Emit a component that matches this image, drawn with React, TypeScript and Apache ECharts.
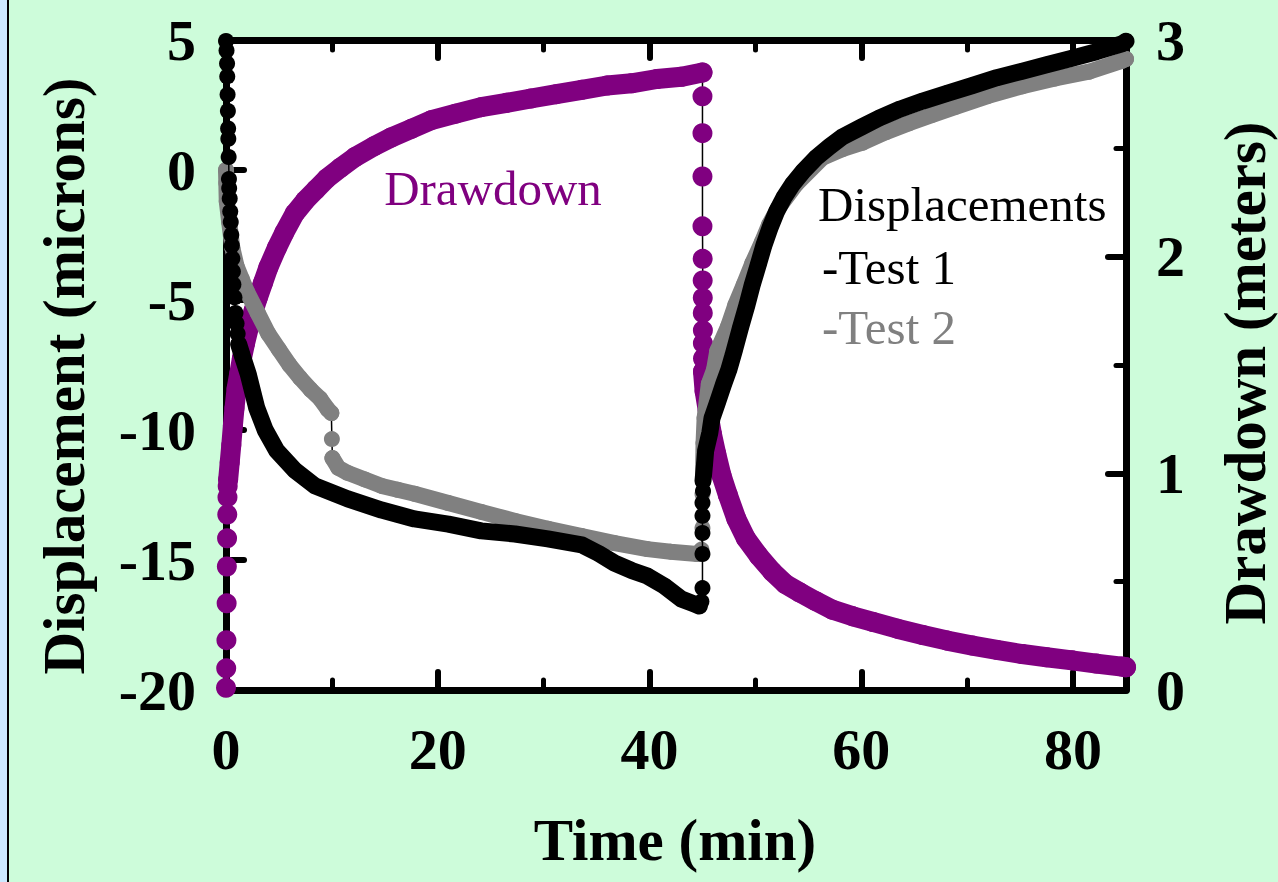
import { useEffect, useRef } from "react";
import * as echarts from "echarts";

type Pt = [number, number];

// ---------- Drawdown (meters, right axis) ----------
const drawdownRise: Pt[] = [
  [0, 0.01], [0.02, 0.1], [0.04, 0.23], [0.06, 0.4], [0.08, 0.57], [0.1, 0.7],
  [0.12, 0.81], [0.14, 0.89], [0.16, 0.94],
];
const drawdownPump: Pt[] = [
  [0.2, 0.97], [0.35, 1.05], [0.5, 1.13], [0.65, 1.22], [0.8, 1.3], [1.0, 1.39],
  [1.25, 1.46], [1.5, 1.53], [1.8, 1.6], [2.2, 1.68], [2.6, 1.75], [3.0, 1.81],
  [3.5, 1.88], [4.0, 1.95], [4.8, 2.04], [5.5, 2.11], [6.5, 2.2], [7.5, 2.26],
  [8.5, 2.31], [9.5, 2.36], [10.8, 2.41], [12.2, 2.46], [14.0, 2.51], [15.6, 2.55],
  [17.5, 2.59], [19.4, 2.63], [21.7, 2.66], [24.1, 2.69], [26.5, 2.71], [28.8, 2.73],
  [31.2, 2.75], [33.6, 2.77], [36.0, 2.79], [38.3, 2.8], [40.7, 2.82], [43.0, 2.83],
  [45.0, 2.85],
];
const drawdownDrop: Pt[] = [
  [45.0, 2.74], [45.0, 2.57], [45.0, 2.37], [45.0, 2.14], [45.02, 1.99], [45.02, 1.89],
  [45.03, 1.81], [45.03, 1.74], [45.04, 1.66], [45.04, 1.6], [45.05, 1.53],
];
const drawdownRecovery: Pt[] = [
  [45.05, 1.47], [45.2, 1.38], [45.5, 1.29], [45.9, 1.18], [46.3, 1.09], [46.8, 0.99],
  [47.4, 0.9], [48.2, 0.79], [49.1, 0.7], [50.3, 0.62], [51.6, 0.546], [52.8, 0.49],
  [54.2, 0.45], [55.7, 0.41], [57.3, 0.37], [59.2, 0.34], [61.1, 0.314], [63.4, 0.283],
  [65.8, 0.254], [68.1, 0.228], [70.5, 0.205], [72.8, 0.185], [75.2, 0.166], [77.5, 0.151],
  [79.9, 0.137], [82.2, 0.122], [84.6, 0.108], [85.0, 0.105],
];

// ---------- Test 1 displacement (microns, left axis) ----------
const test1Start: Pt[] = [
  [0, 4.96], [0.05, 4.6], [0.1, 4.1], [0.12, 3.6], [0.15, 2.9], [0.18, 2.27], [0.2, 1.6],
  [0.22, 1.2], [0.25, 0.5], [0.28, -0.35], [0.3, -0.7], [0.35, -1.1], [0.4, -1.6],
  [0.45, -2.0], [0.5, -2.5], [0.55, -2.9], [0.6, -3.4], [0.65, -3.9], [0.7, -4.4],
  [0.8, -4.9], [0.9, -5.5], [1.0, -5.9], [1.1, -6.3],
];
const test1Fall: Pt[] = [
  [1.2, -6.7], [1.5, -7.1], [2.1, -7.85], [2.9, -9.15], [3.7, -10.0], [4.8, -10.8],
  [6.5, -11.55], [8.4, -12.15], [11.5, -12.65], [14.7, -13.08], [17.8, -13.42],
  [21.0, -13.62], [24.1, -13.88], [27.3, -14.0], [30.4, -14.19], [33.6, -14.42],
  [35.2, -14.75], [36.7, -15.12], [38.3, -15.4], [39.8, -15.62], [41.4, -16.0],
  [43.0, -16.5], [44.2, -16.69], [44.7, -16.77],
];
const test1Jump: Pt[] = [
  [44.9, -16.6], [45.0, -16.08], [45.0, -14.77], [45.0, -13.96], [45.0, -13.3],
  [45.0, -12.8], [45.05, -12.35],
];
const test1Rise: Pt[] = [
  [45.05, -11.96], [45.2, -11.3], [45.3, -10.8], [45.7, -10.1], [45.9, -9.55], [46.4, -8.96],
  [47.0, -8.23], [47.5, -7.67], [48.0, -6.96], [48.6, -6.05], [49.2, -5.2], [49.7, -4.42],
  [50.3, -3.6], [50.8, -2.9], [51.4, -2.2], [52.0, -1.6], [52.7, -1.05], [53.5, -0.55],
  [54.5, -0.05], [55.7, 0.46], [57.0, 0.9], [58.2, 1.27], [60.0, 1.65], [61.7, 2.0],
  [63.7, 2.35], [65.8, 2.65], [68.1, 2.95], [70.5, 3.25], [72.8, 3.55], [75.2, 3.8],
  [77.5, 4.05], [79.9, 4.3], [82.2, 4.55], [84.6, 4.85], [85.0, 4.95],
];

// ---------- Test 2 displacement (microns, left axis) ----------
const test2Fall: Pt[] = [
  [0.0, 0.0], [0.03, -0.5], [0.07, -1.2], [0.3, -2.0], [0.6, -3.0], [1.0, -3.7],
  [1.5, -4.2], [2.0, -4.7], [3.0, -5.5], [4.0, -6.3], [5.0, -6.9], [6.0, -7.5],
  [7.0, -8.0], [8.0, -8.45], [8.9, -8.8], [9.6, -9.2], [9.95, -9.35],
];
const test2Step: Pt[] = [[10.0, -10.35]];
const test2Mid: Pt[] = [
  [10.05, -11.08], [10.6, -11.45], [11.5, -11.65], [13.1, -11.9], [14.7, -12.15],
  [16.2, -12.3], [17.8, -12.45], [21.0, -12.81], [24.1, -13.15], [27.3, -13.5],
  [30.4, -13.8], [33.6, -14.08], [36.7, -14.35], [39.8, -14.58], [42.0, -14.68],
  [44.5, -14.77],
];
const test2Jump: Pt[] = [[44.9, -14.6], [45.0, -13.77], [45.0, -12.46]];
const test2Rise: Pt[] = [
  [45.05, -11.85], [45.1, -10.5], [45.2, -9.54], [45.6, -8.23], [46.1, -7.67], [46.4, -6.96],
  [47.4, -6.04], [48.1, -5.2], [48.9, -4.42], [49.7, -3.6], [50.6, -2.79], [51.3, -2.1],
  [52.1, -1.5], [53.9, -0.52], [56.3, 0.46], [58.2, 0.8], [60.1, 1.05], [62.3, 1.45],
  [64.5, 1.8], [66.7, 2.12], [68.9, 2.43], [72.0, 2.85], [75.2, 3.22], [78.3, 3.52],
  [81.5, 3.78], [84.6, 4.2], [85.0, 4.27],
];

const FONT = '"Liberation Serif", "Times New Roman", serif';
const PURPLE = "#800080";
const GRAY = "#808080";
const BLACK = "#000000";

const tickLabel = {
  show: true,
  color: "#000",
  fontFamily: FONT,
  fontWeight: "bold",
  fontSize: 58,
  margin: 30,
};

function dots(data: Pt[], color: string, size: number, yAxisIndex: number, z: number) {
  return {
    type: "line",
    data,
    xAxisIndex: 0,
    yAxisIndex,
    symbol: "circle",
    symbolSize: size,
    showSymbol: true,
    itemStyle: { color, borderWidth: 0 },
    lineStyle: { color: "#000", width: 1.5 },
    z,
    clip: false,
    silent: true,
    emphasis: { disabled: true },
  };
}

function band(data: Pt[], color: string, width: number, yAxisIndex: number, z: number) {
  return {
    type: "line",
    data,
    xAxisIndex: 0,
    yAxisIndex,
    symbol: "none",
    showSymbol: false,
    lineStyle: { color, width, cap: "round", join: "round" },
    z,
    clip: false,
    silent: true,
    emphasis: { disabled: true },
  };
}

function xAxisDef(position: string, interval: number, len: number, width: number, labels: boolean, line: boolean) {
  return {
    type: "value",
    min: 0,
    max: 85,
    interval,
    position,
    axisLine: { show: line, onZero: false, lineStyle: { color: "#000", width: 7 } },
    axisTick: { show: true, inside: true, length: len, lineStyle: { color: "#000", width, cap: "round" } },
    axisLabel: labels
      ? { ...tickLabel, formatter: (v: number) => (v % 20 === 0 ? String(v) : "") }
      : { show: false },
    splitLine: { show: false },
  };
}

const option = {
  animation: false,
  backgroundColor: "#cdfcda",
  grid: {
    left: 226,
    right: 152,
    top: 40,
    bottom: 192,
    show: true,
    backgroundColor: "#ffffff",
    borderWidth: 0,
  },
  xAxis: [
    xAxisDef("bottom", 10, 10, 5, false, true),
    xAxisDef("bottom", 20, 18, 6, true, false),
    xAxisDef("top", 10, 10, 5, false, true),
    xAxisDef("top", 20, 18, 6, false, false),
  ],
  yAxis: [
    {
      type: "value",
      min: -20,
      max: 5,
      interval: 5,
      position: "left",
      axisLine: { show: true, onZero: false, lineStyle: { color: "#000", width: 7 } },
      axisTick: { show: true, inside: true, length: 18, lineStyle: { color: "#000", width: 6, cap: "round" } },
      axisLabel: tickLabel,
      splitLine: { show: false },
    },
    {
      type: "value",
      min: 0,
      max: 3,
      interval: 1,
      position: "right",
      axisLine: { show: true, onZero: false, lineStyle: { color: "#000", width: 7 } },
      axisTick: { show: true, inside: true, length: 18, lineStyle: { color: "#000", width: 6, cap: "round" } },
      minorTick: { show: true, splitNumber: 2, length: 10, lineStyle: { color: "#000", width: 5, cap: "round" } },
      axisLabel: tickLabel,
      splitLine: { show: false },
      minorSplitLine: { show: false },
    },
  ],
  series: [
    dots([...drawdownRise, ...drawdownPump, ...drawdownDrop, ...drawdownRecovery], PURPLE, 20, 1, 1),
    band(drawdownPump, PURPLE, 20, 1, 2),
    band(drawdownRecovery, PURPLE, 20, 1, 2),
    dots([...test2Fall, ...test2Step, ...test2Mid, ...test2Jump, ...test2Rise], GRAY, 16, 0, 3),
    band(test2Fall, GRAY, 16, 0, 4),
    band(test2Mid, GRAY, 16, 0, 4),
    band(test2Rise, GRAY, 16, 0, 4),
    dots([...test1Start, ...test1Fall, ...test1Jump, ...test1Rise], BLACK, 16, 0, 5),
    band(test1Fall, BLACK, 17, 0, 6),
    band(test1Rise, BLACK, 17, 0, 6),
  ],
  graphic: [
    { type: "rect", shape: { x: 0, y: 0, width: 7, height: 882 }, style: { fill: "#cce9ff" }, silent: true },
    { type: "rect", shape: { x: 7, y: 0, width: 2, height: 882 }, style: { fill: "#000" }, silent: true },
    {
      type: "text", x: 675, y: 840, silent: true,
      style: { text: "Time (min)", fill: "#000", font: `bold 59px ${FONT}`, align: "center", verticalAlign: "middle", textAlign: "center", textVerticalAlign: "middle" },
    },
    {
      type: "text", x: 64, y: 376, rotation: Math.PI / 2, silent: true,
      style: { text: "Displacement (microns)", fill: "#000", font: `bold 59px ${FONT}`, align: "center", verticalAlign: "middle", textAlign: "center", textVerticalAlign: "middle" },
    },
    {
      type: "text", x: 1245, y: 373, rotation: Math.PI / 2, silent: true,
      style: { text: "Drawdown (meters)", fill: "#000", font: `bold 59px ${FONT}`, align: "center", verticalAlign: "middle", textAlign: "center", textVerticalAlign: "middle" },
    },
    {
      type: "text", x: 493, y: 188, silent: true, z: 10,
      style: { text: "Drawdown", fill: PURPLE, font: `49px ${FONT}`, align: "center", verticalAlign: "middle", textAlign: "center", textVerticalAlign: "middle" },
    },
    {
      type: "text", x: 818, y: 204, silent: true, z: 10,
      style: { text: "Displacements", fill: "#000", font: `49px ${FONT}`, align: "left", verticalAlign: "middle", textAlign: "left", textVerticalAlign: "middle" },
    },
    {
      type: "text", x: 822, y: 267, silent: true, z: 10,
      style: { text: "-Test 1", fill: "#000", font: `49px ${FONT}`, align: "left", verticalAlign: "middle", textAlign: "left", textVerticalAlign: "middle" },
    },
    {
      type: "text", x: 822, y: 327, silent: true, z: 10,
      style: { text: "-Test 2", fill: GRAY, font: `49px ${FONT}`, align: "left", verticalAlign: "middle", textAlign: "left", textVerticalAlign: "middle" },
    },
  ],
};

export default function App() {
  const ref = useRef<HTMLDivElement>(null);
  useEffect(() => {
    const chart = echarts.init(ref.current!, null, { renderer: "svg" });
    chart.setOption(option as any);
    return () => chart.dispose();
  }, []);
  return (
    <div
      ref={ref}
      style={{ position: "fixed", left: 0, top: 0, width: 1278, height: 882 }}
    />
  );
}
